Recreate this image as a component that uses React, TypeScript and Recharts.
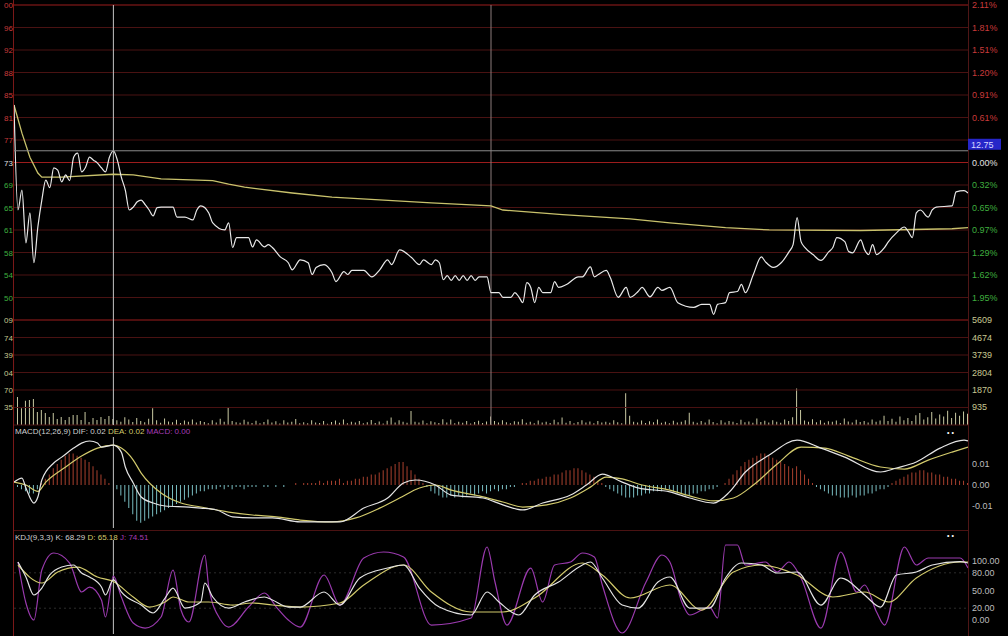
import React from 'react'
import { ComposedChart, Line, Bar, Cell, XAxis, YAxis, ReferenceLine } from 'recharts'

// 分时图: 昨收 12.73, 十字光标停在第 25 分钟 (12.75)
const PREV_CLOSE = 12.73
const CURSOR_MIN = 25
const CURSOR_PRICE = 12.75
const NOON_MIN = 120

// [分钟, 价格]
const PRICE: [number, number][] = [
  [0, 12.828], [1, 12.649], [2, 12.683], [3, 12.593], [4, 12.644], [5, 12.559], [6, 12.62], [7, 12.666], [8, 12.7], [9, 12.687],
  [10, 12.721], [11, 12.717], [12, 12.697], [13, 12.709], [14, 12.699], [15, 12.739], [16, 12.746], [17, 12.714], [18, 12.722], [19, 12.739],
  [20, 12.734], [21, 12.729], [22, 12.721], [23, 12.714], [24, 12.739], [25, 12.75], [26, 12.734], [27, 12.705], [28, 12.683], [29, 12.649],
  [30, 12.654], [31, 12.663], [32, 12.666], [33, 12.658], [34, 12.649], [35, 12.639], [36, 12.653], [37, 12.654], [40, 12.654], [41, 12.637],
  [43, 12.637], [45, 12.632], [46, 12.649], [47, 12.656], [49, 12.644], [50, 12.627], [53, 12.615], [54, 12.627], [55, 12.585], [56, 12.602],
  [59, 12.602], [60, 12.586], [61, 12.598], [63, 12.586], [64, 12.59], [65, 12.585], [67, 12.569], [69, 12.559], [70, 12.547], [72, 12.564],
  [74, 12.559], [75, 12.539], [76, 12.551], [78, 12.556], [80, 12.542], [81, 12.527], [83, 12.544], [84, 12.539], [85, 12.546], [88, 12.546],
  [90, 12.535], [92, 12.547], [94, 12.564], [95, 12.556], [97, 12.581], [100, 12.568], [102, 12.556], [103, 12.564], [105, 12.556], [106, 12.564],
  [107, 12.559], [108, 12.53], [109, 12.537], [110, 12.529], [111, 12.537], [112, 12.529], [113, 12.537], [114, 12.529], [115, 12.537], [116, 12.529],
  [117, 12.535], [119, 12.535], [120, 12.508], [122, 12.508], [123, 12.5], [125, 12.5], [126, 12.508], [127, 12.501], [128, 12.491], [129, 12.525],
  [130, 12.517], [131, 12.491], [132, 12.517], [133, 12.508], [135, 12.508], [136, 12.527], [137, 12.517], [139, 12.522], [142, 12.535], [143, 12.535],
  [145, 12.552], [146, 12.535], [147, 12.539], [149, 12.546], [150, 12.534], [152, 12.5], [154, 12.517], [155, 12.5], [157, 12.51], [158, 12.517],
  [160, 12.501], [162, 12.517], [163, 12.512], [165, 12.517], [167, 12.491], [171, 12.483], [173, 12.488], [175, 12.488], [176, 12.471], [177, 12.488],
  [179, 12.491], [180, 12.508], [182, 12.51], [183, 12.522], [184, 12.508], [186, 12.539], [188, 12.569], [189, 12.561], [191, 12.551], [193, 12.559],
  [195, 12.578], [196, 12.59], [197, 12.636], [198, 12.595], [199, 12.585], [201, 12.573], [203, 12.563], [205, 12.578], [206, 12.585], [207, 12.602],
  [209, 12.595], [210, 12.578], [211, 12.576], [213, 12.598], [214, 12.581], [215, 12.573], [216, 12.59], [217, 12.573], [219, 12.585], [220, 12.595],
  [222, 12.61], [224, 12.62], [225, 12.612], [226, 12.602], [227, 12.644], [228, 12.649], [230, 12.637], [231, 12.649], [232, 12.654], [236, 12.656],
  [237, 12.68], [239, 12.682], [240, 12.678],
]

// 均价线
const AVG: [number, number][] = [
  [0, 12.828], [2, 12.78], [4, 12.739], [6, 12.712], [7, 12.705], [12, 12.705], [25, 12.71], [30, 12.709], [37, 12.702], [50, 12.699],
  [54, 12.693], [58, 12.688], [70, 12.678], [80, 12.671], [105, 12.661], [120, 12.656], [123, 12.649], [138, 12.641], [155, 12.634],
  [165, 12.627], [179, 12.619], [190, 12.615], [213, 12.614], [236, 12.617], [240, 12.619],
]

// 右侧涨跌幅标签, 自下而上 (最底一格让给成交量, 0.30% 被光标价格框盖住)
const PCT_LABELS = ['', '1.95%', '1.62%', '1.29%', '0.97%', '0.65%', '0.32%', '0.00%', '', '0.61%', '0.91%', '1.20%', '1.51%', '1.81%', '2.11%']

const VOLUME = [
  5100, 1500, 900, 1300, 1330, 1390, 700, 800, 640, 430,
  640, 320, 430, 270, 430, 530, 530, 270, 700, 160,
  370, 270, 430, 320, 480, 320, 250, 180, 420, 300,
  160, 380, 210, 150, 330, 900, 260, 120, 350, 190,
  150, 280, 110, 240, 170, 300, 130, 220, 160, 90,
  260, 140, 330, 180, 960, 210, 150, 120, 280, 170,
  110, 230, 90, 160, 300, 140, 200, 80, 250, 130,
  180, 320, 100, 150, 90, 260, 140, 110, 210, 70,
  160, 240, 120, 300, 90, 180, 130, 220, 100, 150,
  270, 110, 190, 80, 230, 400, 140, 260, 170, 120,
  750, 180, 130, 240, 90, 200, 150, 110, 310, 130,
  300, 90, 170, 120, 210, 80, 160, 230, 110, 190,
  450, 220, 130, 260, 150, 90, 200, 170, 310, 120,
  180, 90, 240, 130, 170, 110, 280, 150, 400, 120,
  210, 90, 160, 250, 130, 190, 100, 220, 140, 170,
  120, 260, 150, 90, 1700, 500, 180, 130, 240, 110,
  200, 150, 300, 120, 170, 90, 230, 140, 180, 260,
  650, 180, 120, 210, 140, 300, 160, 90, 250, 130,
  220, 170, 110, 280, 150, 190, 120, 350, 160, 230,
  140, 260, 180, 120, 300, 210, 420, 1950, 800, 240,
  180, 310, 150, 260, 120, 200, 170, 240, 110, 350,
  190, 140, 280, 160, 220, 130, 300, 170, 240, 500,
  210, 330, 180, 450, 260, 380, 220, 520, 640, 300,
  420, 700, 350, 560, 450, 760, 380, 650, 500, 720,
  600,
]
const VOL_TICKS = [935, 1870, 2804, 3739, 4674, 5609]

// MACD 柱, 单位 0.001
const MACD_HIST = [
  0, -1, -2, -3, -4, -4, -2, 1, 3, 5,
  8, 10, 12, 14, 15, 15, 14, 13, 12, 11,
  9, 7, 5, 3, 1, 0, -2, -5, -8, -11,
  -14, -17, -18, -17, -16, -15, -14, -13, -12, -11,
  -10, -9, -8, -7, -6, -5, -4, -3, -3, -2,
  -2, -2, -1, -2, -1, -2, -1, -1, -2, -1,
  -1, -1, 0, -1, -1, 0, -1, 0, -1, 0,
  0, 1, 0, 1, 1, 1, 1, 2, 1, 2,
  2, 2, 3, 1, 2, 2, 3, 3, 4, 4,
  5, 5, 6, 7, 8, 9, 10, 11, 11, 9,
  7, 5, 3, 1, -1, -3, -4, -5, -6, -6,
  -5, -6, -5, -6, -5, -4, -5, -4, -3, -4,
  -3, -2, -3, -2, -2, -1, -1, 0, 1, 1,
  2, 2, 3, 3, 4, 4, 5, 5, 6, 7,
  7, 8, 8, 7, 6, 5, 4, 2, 1, -1,
  -2, -3, -4, -5, -6, -6, -6, -5, -5, -4,
  -4, -3, -3, -3, -2, -2, -3, -4, -4, -5,
  -5, -4, -4, -3, -3, -2, -2, -1, 0, 1,
  3, 5, 7, 9, 11, 12, 13, 14, 15, 15,
  14, 13, 12, 11, 10, 9, 8, 9, 7, 5,
  3, 1, -1, -2, -3, -4, -5, -5, -6, -6,
  -6, -5, -6, -5, -5, -4, -4, -3, -2, -2,
  -1, 1, 2, 3, 4, 5, 6, 6, 7, 7,
  6, 6, 5, 5, 4, 4, 3, 3, 2, 2,
  1,
]

// DIF / DEA, 单位 0.001
const DIF: [number, number][] = [
  [0, 1.4], [2, 3.3], [3, -1.4], [5, -8.6], [6, -5.7], [7, 2.4], [10, 10.5], [12, 13.3], [15, 17.6], [17, 20],
  [19, 21], [21, 20], [22, 18.1], [25, 19], [27, 15.7], [28, 8.6], [30, 1], [32, -5.7], [35, -8.6], [38, -10],
  [44, -10.5], [47, -11], [51, -11.9], [55, -15.2], [60, -15.7], [65, -15.7], [72, -17.6], [82, -17.6], [88, -11], [94, -6.2],
  [98, 1], [101, 2.4], [106, 0], [110, -4.8], [118, -6.2], [123, -9.5], [128, -11.9], [133, -8.6], [140, -4.8], [144, 0],
  [148, 5.2], [153, 1.4], [157, -1.4], [165, -3.3], [170, -6.2], [176, -8.6], [180, -3.3], [184, 6.2], [190, 14.3], [197, 21.4],
  [203, 17.6], [209, 13.3], [218, 6.2], [222, 8.1], [227, 11], [233, 17.6], [239, 21.4], [240, 21],
]
const DEA: [number, number][] = [
  [0, 1.4], [3, 0], [6, -3], [8, 1.4], [13, 8.6], [17, 13.8], [21, 17.6], [25, 19], [27, 17.6], [30, 11.9],
  [32, 5.7], [37, -3.8], [42, -8.6], [47, -10.5], [54, -12.9], [60, -14.3], [66, -15.2], [72, -16.7], [80, -17.6], [86, -15.7],
  [92, -11], [97, -6.2], [102, -1.4], [106, 0], [110, -2.4], [117, -5.2], [123, -8.1], [128, -10.5], [134, -9.5], [140, -6.2],
  [145, -1], [149, 3.8], [153, 2.9], [158, 0], [165, -2.4], [170, -5.2], [176, -7.6], [181, -6.2], [186, 0], [192, 10],
  [198, 18.1], [204, 17.6], [210, 13.8], [218, 8.6], [224, 7.6], [230, 11.9], [236, 15.7], [240, 18.1],
]

const KDJ_K: [number, number][] = [
  [1, 98.3], [3, 72.9], [5, 42.4], [7, 54.2], [9, 76.3], [12, 89.8], [15, 93.2], [17, 79.7], [19, 72.9], [22, 55.9],
  [23, 42.4], [25, 68.3], [27, 47.5], [32, 25.4], [35, 11.9], [38, 37.3], [40, 54.2], [43, 20.3], [47, 30.5], [48, 62.7],
  [50, 39], [54, 20.3], [58, 30.5], [63, 39], [65, 33.9], [69, 22], [72, 22], [78, 47.5], [82, 25.4], [87, 71.2],
  [94, 88.1], [98, 93.2], [102, 54.2], [107, 22], [115, 8.5], [119, 47.5], [122, 30.5], [127, 8.5], [131, 42.4], [137, 64.4],
  [143, 93.2], [145, 98.3], [148, 71.2], [153, 25.4], [157, 20.3], [162, 64.4], [165, 72.9], [170, 20.3], [175, 20.3], [179, 71.2],
  [183, 96.6], [188, 93.2], [192, 79.7], [197, 81.4], [203, 25.4], [208, 71.2], [214, 42.4], [218, 22], [222, 76.3], [227, 81.4],
  [231, 93.2], [238, 99], [240, 96.6],
]
const KDJ_D: [number, number][] = [
  [1, 93.2], [7, 62.7], [11, 81.4], [16, 89.8], [21, 72.9], [25, 65.2], [30, 39], [34, 22], [38, 30.5], [40, 39],
  [44, 30.5], [49, 30.5], [55, 25.4], [60, 28.8], [65, 25.4], [72, 22], [82, 28.8], [88, 59.3], [98, 93.2], [105, 47.5],
  [115, 13.6], [123, 13.6], [131, 37.3], [143, 96.6], [148, 76.3], [155, 37.3], [165, 59.3], [173, 16.9], [181, 81.4], [188, 93.2],
  [197, 76.3], [206, 39], [214, 47.5], [220, 30.5], [227, 71.2], [238, 98.3], [240, 98.3],
]
const KDJ_J: [number, number][] = [
  [1, 98.3], [3, 28.8], [5, 0], [7, 84.7], [10, 113.6], [14, 96.6], [17, 47.5], [19, 55.9], [22, 33.9], [23, 5.1],
  [25, 74.5], [27, 39], [30, -5.1], [33, -13.6], [37, 5.1], [40, 84.7], [42, 16.9], [44, -3.4], [48, 110.2], [49, 55.9],
  [52, 0], [54, -11.9], [59, 22], [63, 45.8], [66, 22], [69, 0], [72, -11.9], [78, 76.3], [82, 25.4], [88, 105.1],
  [93, 115.3], [98, 106.8], [105, -8.5], [115, 3.4], [119, 123.7], [121, 64.4], [124, -8.5], [130, 88.1], [133, 30.5], [136, 93.2],
  [140, 98.3], [143, 113.6], [146, 106.8], [148, 59.3], [153, -22], [159, 64.4], [163, 110.2], [165, 98.3], [168, 30.5], [170, 8.5],
  [175, 22], [177, 3.4], [179, 127.1], [182, 127.1], [184, 93.2], [189, 98.3], [192, 81.4], [195, 98.3], [198, 71.2], [203, -13.6],
  [208, 115.3], [212, 47.5], [214, 59.3], [217, 13.6], [219, -8.5], [224, 123.7], [227, 93.2], [230, 105.1], [238, 105.1], [240, 88.1],
]
const KDJ_TICKS = [0, 20, 50, 80, 100]

const W = 1008
const FONT = '"Liberation Sans", Arial, sans-serif'
const RED = '#9c1c1c'
const DARK_RED = '#4a1212'
const SPAN = 0.0211
const LO = PREV_CLOSE * (1 - SPAN)
const HI = PREV_CLOSE * (1 + SPAN)
const GRID = Array.from({ length: 15 }, (_, k) => LO + (k * (HI - LO)) / 14)

const pts = (arr: [number, number][]) => arr.map(([m, v]) => ({ m, v }))

const tickOf = (fmt: (v: number, i: number) => string, color: (v: number, i: number) => string, anchor: string, size = 9) =>
  (props: any) => {
    const { x, y, payload, index } = props
    return (
      <text x={x} y={y} dy={3} textAnchor={anchor} fill={color(payload.value, index)} fontSize={size} fontFamily={FONT}>
        {fmt(payload.value, index)}
      </text>
    )
  }

// 左侧只留得下两位尾数
const tail = (s: string) => s.slice(-2)
const priceColor = (i: number) => (i > 7 ? '#c83a3a' : i < 7 ? '#3fae3f' : '#e0e0e0')

const cursorBox = (props: any) => {
  const vb = props.viewBox
  const x = vb.x + vb.width
  return (
    <g>
      <rect x={x} y={vb.y - 12} width={33} height={11} fill="#2626c8" />
      <text x={x + 3} y={vb.y - 3} fill="#d8d8ff" fontSize={9} fontFamily={FONT}>{CURSOR_PRICE.toFixed(2)}</text>
    </g>
  )
}

const xAxis = <XAxis type="number" dataKey="m" domain={[0, 240]} hide allowDataOverflow />

function PricePanel() {
  return (
    <ComposedChart width={W} height={322} margin={{ top: 5, right: 0, bottom: 2, left: 0 }}>
      {xAxis}
      <YAxis yAxisId="l" width={14} domain={[LO, HI]} ticks={GRID.slice(1)} interval={0} tickSize={0} tickMargin={1}
        axisLine={false} tickLine={false} allowDataOverflow
        tick={tickOf((v) => tail(v.toFixed(2)), (_v, i) => priceColor(i + 1), 'end', 8)} />
      <YAxis yAxisId="r" orientation="right" width={40} domain={[LO, HI]} ticks={GRID} interval={0} tickSize={2} tickMargin={2}
        axisLine={false} tickLine={false} allowDataOverflow
        tick={tickOf((_v, i) => PCT_LABELS[i], (_v, i) => priceColor(i), 'start')} />
      {GRID.map((v, k) => (
        <ReferenceLine key={k} yAxisId="l" y={v} ifOverflow="visible"
          stroke={k === 0 || k === 7 || k === 14 ? RED : DARK_RED} />
      ))}
      <ReferenceLine yAxisId="l" x={NOON_MIN} stroke="#8c7c7c" />
      <ReferenceLine yAxisId="l" x={CURSOR_MIN} stroke="#c4c4c4" />
      <Line yAxisId="l" data={pts(AVG)} dataKey="v" type="linear" stroke="#c9c26c" strokeWidth={1.3}
        dot={false} isAnimationActive={false} />
      <Line yAxisId="l" data={pts(PRICE)} dataKey="v" type="monotone" stroke="#e8e8e8" strokeWidth={1.2}
        dot={false} isAnimationActive={false} />
      <ReferenceLine yAxisId="l" y={CURSOR_PRICE} stroke="#8a8a8a" label={cursorBox} />
    </ComposedChart>
  )
}

function VolumePanel() {
  const data = VOLUME.map((v, m) => ({ m, v }))
  const top = VOL_TICKS[VOL_TICKS.length - 1]
  return (
    <ComposedChart width={W} height={115} margin={{ top: 8, right: 0, bottom: 2, left: 0 }} data={data}>
      {xAxis}
      <YAxis yAxisId="l" width={14} domain={[0, top]} ticks={VOL_TICKS} interval={0} tickSize={0} tickMargin={1}
        axisLine={false} tickLine={false} allowDataOverflow
        tick={tickOf((v) => tail(String(v)), () => '#c8c890', 'end', 8)} />
      <YAxis yAxisId="r" orientation="right" width={40} domain={[0, top]} ticks={VOL_TICKS} interval={0} tickSize={2} tickMargin={2}
        axisLine={false} tickLine={false} allowDataOverflow
        tick={tickOf((v) => String(v), () => '#c8c890', 'start')} />
      {VOL_TICKS.slice(0, -1).map((v) => (
        <ReferenceLine key={v} yAxisId="l" y={v} stroke={DARK_RED} />
      ))}
      <ReferenceLine yAxisId="l" y={0} stroke={DARK_RED} ifOverflow="visible" />
      <ReferenceLine yAxisId="l" x={NOON_MIN} stroke="#8c7c7c" />
      <ReferenceLine yAxisId="l" x={CURSOR_MIN} stroke="#c4c4c4" />
      <Bar yAxisId="l" dataKey="v" barSize={1} fill="#c9c9a2" isAnimationActive={false} />
    </ComposedChart>
  )
}

function MacdPanel() {
  const data = MACD_HIST.map((h, m) => ({ m, h }))
  return (
    <ComposedChart width={W} height={105} margin={{ top: 12, right: 0, bottom: 2, left: 0 }} data={data}>
      {xAxis}
      <YAxis yAxisId="l" width={14} domain={[-20.5, 22.9]} tick={false} axisLine={false} tickLine={false} allowDataOverflow />
      <YAxis yAxisId="r" orientation="right" width={40} domain={[-20.5, 22.9]} ticks={[-10, 0, 10]} interval={0}
        tickSize={2} tickMargin={2} axisLine={false} tickLine={false} allowDataOverflow
        tick={tickOf((v) => (v / 1000).toFixed(2), () => '#bdbdbd', 'start')} />
      <ReferenceLine yAxisId="l" x={CURSOR_MIN} stroke="#c4c4c4" />
      <Bar yAxisId="l" dataKey="h" barSize={1} isAnimationActive={false}>
        {data.map((d) => (
          <Cell key={d.m} fill={d.h >= 0 ? '#a8402e' : '#78bcc0'} />
        ))}
      </Bar>
      <Line yAxisId="l" data={pts(DEA)} dataKey="v" type="monotone" stroke="#d2ca6c" strokeWidth={1.2}
        dot={false} isAnimationActive={false} />
      <Line yAxisId="l" data={pts(DIF)} dataKey="v" type="monotone" stroke="#e4e4e4" strokeWidth={1.2}
        dot={false} isAnimationActive={false} />
    </ComposedChart>
  )
}

function KdjPanel() {
  return (
    <ComposedChart width={W} height={106} margin={{ top: 10, right: 0, bottom: 2, left: 0 }}>
      {xAxis}
      <YAxis yAxisId="l" width={14} domain={[-23.7, 135.6]} tick={false} axisLine={false} tickLine={false} allowDataOverflow />
      <YAxis yAxisId="r" orientation="right" width={40} domain={[-23.7, 135.6]} ticks={KDJ_TICKS} interval={0}
        tickSize={2} tickMargin={2} axisLine={false} tickLine={false} allowDataOverflow
        tick={tickOf((v) => v.toFixed(2), () => '#bdbdbd', 'start')} />
      <ReferenceLine yAxisId="l" y={20} stroke="#2c2c2c" strokeDasharray="2 3" />
      <ReferenceLine yAxisId="l" y={80} stroke="#2c2c2c" strokeDasharray="2 3" />
      <ReferenceLine yAxisId="l" x={CURSOR_MIN} stroke="#c4c4c4" />
      <Line yAxisId="l" data={pts(KDJ_J)} dataKey="v" type="monotone" stroke="#9a3aae" strokeWidth={1.2}
        dot={false} isAnimationActive={false} />
      <Line yAxisId="l" data={pts(KDJ_D)} dataKey="v" type="monotone" stroke="#d2ca6c" strokeWidth={1.2}
        dot={false} isAnimationActive={false} />
      <Line yAxisId="l" data={pts(KDJ_K)} dataKey="v" type="monotone" stroke="#e4e4e4" strokeWidth={1.2}
        dot={false} isAnimationActive={false} />
    </ComposedChart>
  )
}

const abs = (top: number): React.CSSProperties => ({ position: 'absolute', left: 0, top })
const label: React.CSSProperties = { position: 'absolute', left: 15, fontSize: 8, fontFamily: FONT, whiteSpace: 'nowrap' }

export default function App() {
  return (
    <div style={{ position: 'fixed', left: 0, top: 0, width: W, height: 636, background: '#000', overflow: 'hidden' }}>
      <div style={{ position: 'absolute', left: 13, top: 0, width: 1, height: 636, background: '#7a1818' }} />
      <div style={{ position: 'absolute', left: 968, top: 0, width: 1, height: 636, background: '#4e1616' }} />
      <div style={{ position: 'absolute', left: 14, top: 530, width: 954, height: 1, background: DARK_RED }} />

      <div style={abs(0)}><PricePanel /></div>
      <div style={abs(312)}><VolumePanel /></div>
      <div style={abs(425)}><MacdPanel /></div>
      <div style={abs(530)}><KdjPanel /></div>

      <div style={{ ...label, top: 427 }}>
        <span style={{ color: '#cfcfcf' }}>MACD(12,26,9) DIF: 0.02 </span>
        <span style={{ color: '#d2ca6c' }}>DEA: 0.02 </span>
        <span style={{ color: '#a63cb8' }}>MACD: 0.00</span>
      </div>
      <div style={{ ...label, top: 533 }}>
        <span style={{ color: '#cfcfcf' }}>KDJ(9,3,3) K: 68.29 </span>
        <span style={{ color: '#d2ca6c' }}>D: 65.18 </span>
        <span style={{ color: '#a63cb8' }}>J: 74.51</span>
      </div>
      <div style={{ position: 'absolute', left: 947, top: 429, color: '#fff', fontSize: 7, fontFamily: FONT }}>• •</div>
      <div style={{ position: 'absolute', left: 947, top: 532, color: '#fff', fontSize: 7, fontFamily: FONT }}>• •</div>
    </div>
  )
}
